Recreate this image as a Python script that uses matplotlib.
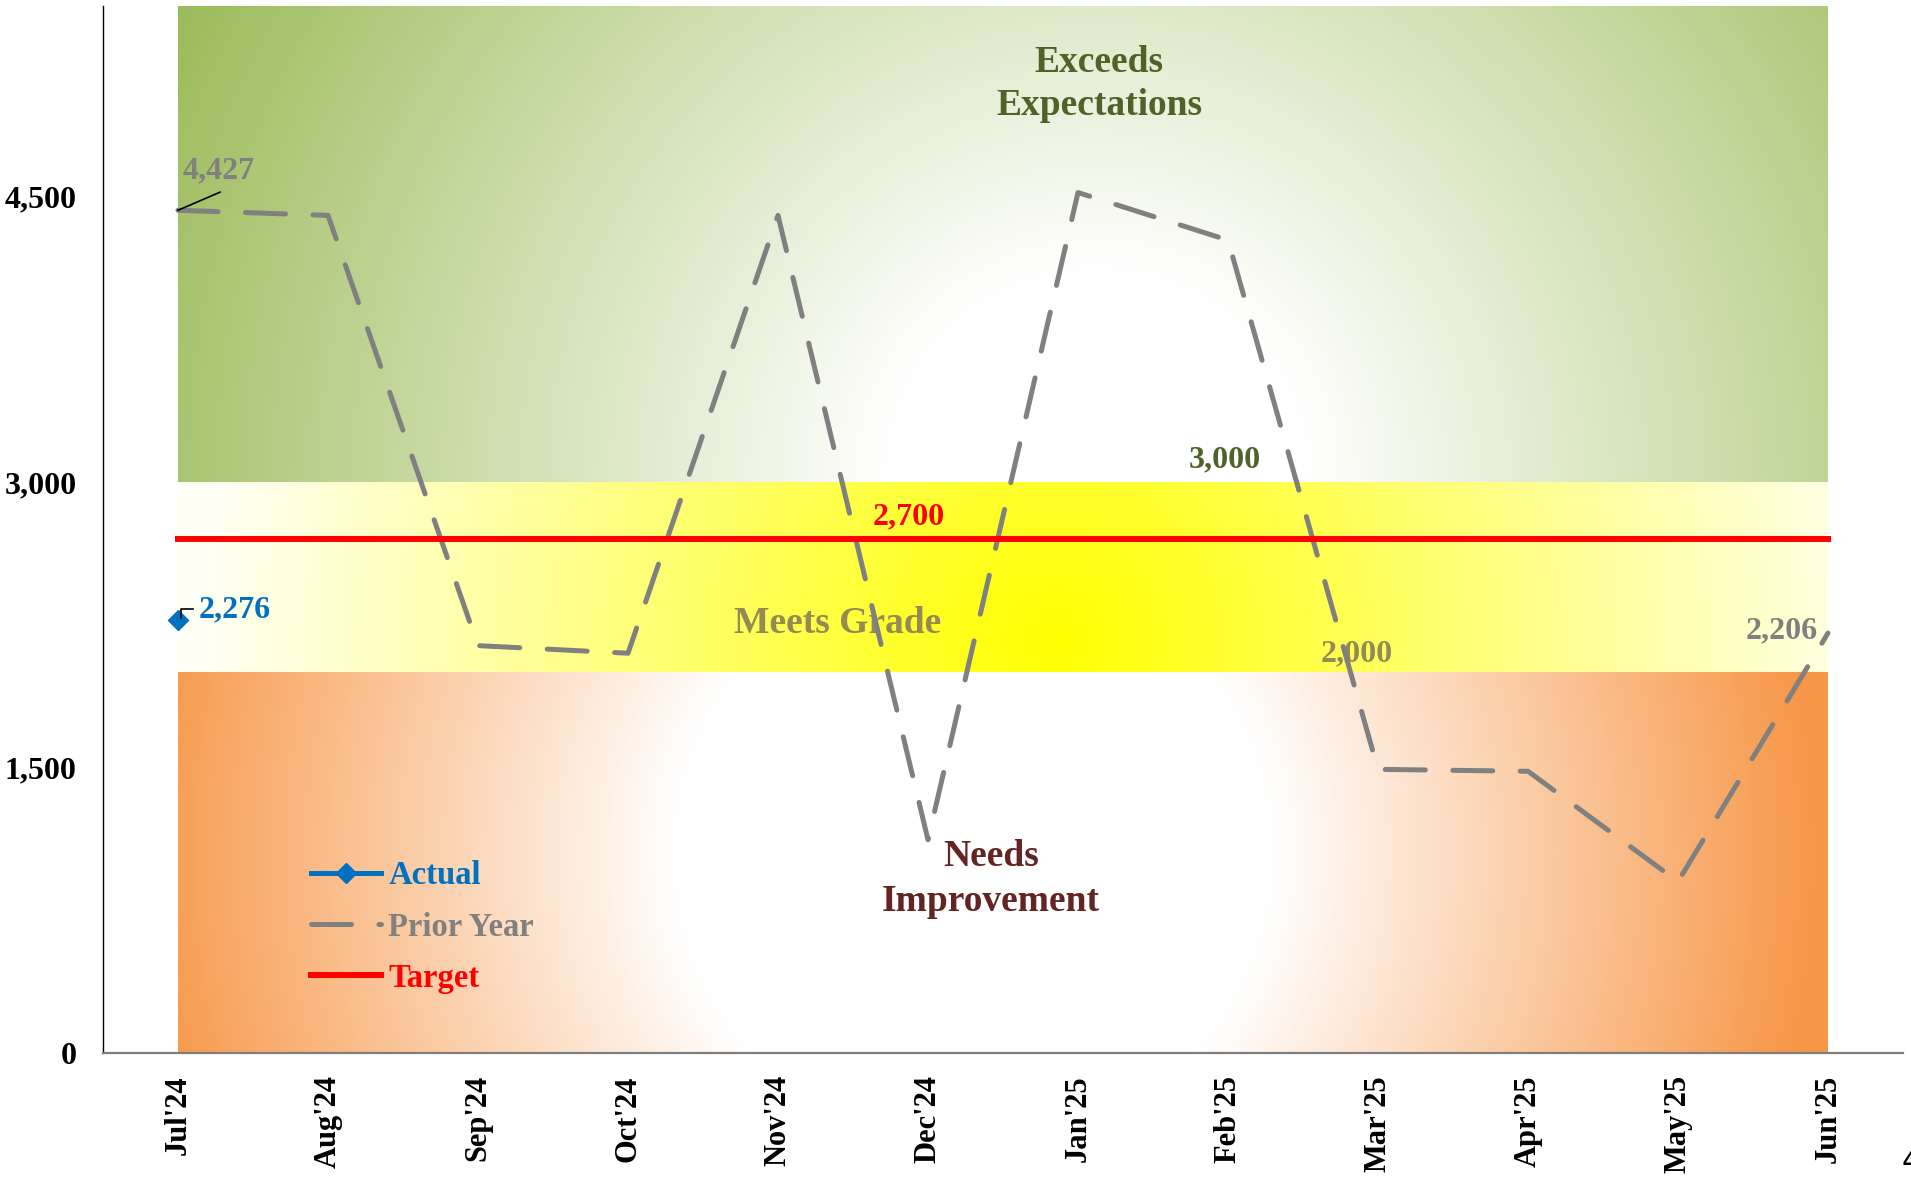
import numpy as np
import matplotlib.pyplot as plt

# Monthly values
months = ["Jul'24", "Aug'24", "Sep'24", "Oct'24", "Nov'24", "Dec'24",
          "Jan'25", "Feb'25", "Mar'25", "Apr'25", "May'25", "Jun'25"]
prior_year = [4427, 4400, 2140, 2100, 4400, 1120, 4520, 4270, 1490, 1480, 900, 2206]
actual = [2276]
target = 2700

# Grade bands
needs_top = 2000
meets_top = 3000
axis_max = 5500
y_ticks = [0, 1500, 3000, 4500]

SERIF = ["Liberation Serif", "DejaVu Serif"]
plt.rcParams["font.family"] = SERIF
plt.rcParams["font.weight"] = "bold"

W, H = 1911, 1181
fig = plt.figure(figsize=(W / 100, H / 100), dpi=100)
ax_l, ax_b, ax_w, ax_h = 103, 128, 1800, 1047
ax = fig.add_axes([ax_l / W, ax_b / H, ax_w / W, ax_h / H])

xmin, xmax = -0.5, len(months) - 0.5
sx = ax_w / (xmax - xmin)     # pixels per month
sy = ax_h / axis_max          # pixels per unit


def radial_fill(y0, y1, cx, cy, radius, inner, c_in, c_out):
    # band filled with a round gradient (measured in pixels so it stays circular)
    x0, x1 = 0, len(months) - 1
    xs = np.linspace(x0, x1, 500)
    ys = np.linspace(y0, y1, 200)
    X, Y = np.meshgrid(xs, ys)
    d = np.hypot((X - cx) * sx, (Y - cy) * sy) / radius
    t = np.clip((d - inner) / (1 - inner), 0, 1)
    c_in = np.array(c_in) / 255.0
    c_out = np.array(c_out) / 255.0
    img = c_in + t[..., None] * (c_out - c_in)
    ax.imshow(img, extent=(x0, x1, y0, y1), origin="lower", aspect="auto",
              interpolation="bilinear", zorder=0)


radial_fill(0, needs_top, 5.3, 1050, 850, 0.35, (255, 255, 255), (247, 150, 70))
radial_fill(needs_top, meets_top, 5.85, 2170, 850, 0.0, (255, 255, 0), (255, 255, 245))
radial_fill(meets_top, axis_max, 6.13, 3000, 1040, 0.2, (255, 255, 255), (155, 187, 89))

x = np.arange(len(months))

# Band labels
ax.text(6.14, 5090, "Exceeds\nExpectations", ha="center", va="center", fontsize=27,
        color="#4F6228", linespacing=1.32, zorder=1)
ax.text(4.4, 2255, "Meets Grade", ha="center", va="center", fontsize=27,
        color="#948A54", zorder=1)
ax.text(5.42, 915, "Needs\nImprovement", ha="center", va="center", fontsize=27,
        color="#632523", linespacing=1.35, zorder=1)
ax.text(6.98, meets_top + 118, f"{meets_top:,}", ha="center", va="center", fontsize=23,
        color="#4F6228", zorder=1)
ax.text(7.86, needs_top + 98, f"{needs_top:,}", ha="center", va="center", fontsize=23,
        color="#948A54", zorder=1)

# Series
a_line, = ax.plot(x[:len(actual)], actual, color="#0070C0", lw=3.6, marker="D",
                  markersize=10, label="Actual", zorder=4)
p_line, = ax.plot(x, prior_year, color="#808080", lw=3.6, dashes=(8, 5.5),
                  dash_capstyle="round", solid_capstyle="round", label="Prior Year", zorder=3)
t_line, = ax.plot(x, [target] * len(months), color="#FF0000", lw=4.3,
                  label="Target", zorder=4)

# Data labels
ax.text(4.87, target + 118, f"{target:,}", ha="center", va="center", fontsize=23,
        color="#FF0000", zorder=5)
ax.plot([0, 0.28], [prior_year[0], prior_year[0] + 95], color="black", lw=1.2, zorder=5)
ax.text(0.27, prior_year[0] + 205, f"{prior_year[0]:,}", ha="center", va="center",
        fontsize=23, color="#808080", zorder=5)
ax.text(10.69, prior_year[-1] + 12, f"{prior_year[-1]:,}", ha="center", va="center",
        fontsize=23, color="#808080", zorder=5)
ax.plot([0.02, 0.02, 0.1], [actual[0] + 10, actual[0] + 58, actual[0] + 58],
        color="black", lw=1.2, zorder=5)
ax.text(0.14, actual[0] + 52, f"{actual[0]:,}", ha="left", va="center", fontsize=23,
        color="#0070C0", zorder=5)

ax.set_xlim(xmin, xmax)
ax.set_ylim(0, axis_max)
ax.set_xticks(x)
ax.set_xticklabels(months, rotation=90, fontsize=22, fontweight="bold")
ax.set_yticks(y_ticks)
ax.set_yticklabels([f"{v:,}" for v in y_ticks], fontsize=23, fontweight="bold")
ax.tick_params(axis="both", length=0)
ax.tick_params(axis="y", pad=19)
ax.tick_params(axis="x", pad=16)

for side in ("top", "right"):
    ax.spines[side].set_visible(False)
ax.spines["left"].set_color("black")
ax.spines["left"].set_linewidth(1.0)
ax.spines["bottom"].set_color("#7F7F7F")
ax.spines["bottom"].set_linewidth(1.6)

leg = ax.legend(handles=[a_line, p_line, t_line], loc="upper left",
                bbox_to_anchor=(0.1156, 0.184), frameon=False, borderpad=0,
                borderaxespad=0, handlelength=2.15, handletextpad=0.22,
                labelspacing=0.62, prop={"family": SERIF, "weight": "bold", "size": 23.5},
                labelcolor="linecolor")

fig.text(1902 / W, 1 - 1162 / H, "4", fontsize=22, family="DejaVu Sans",
         fontweight="normal", ha="left", va="center")

fig.savefig("out.png", dpi=100)
